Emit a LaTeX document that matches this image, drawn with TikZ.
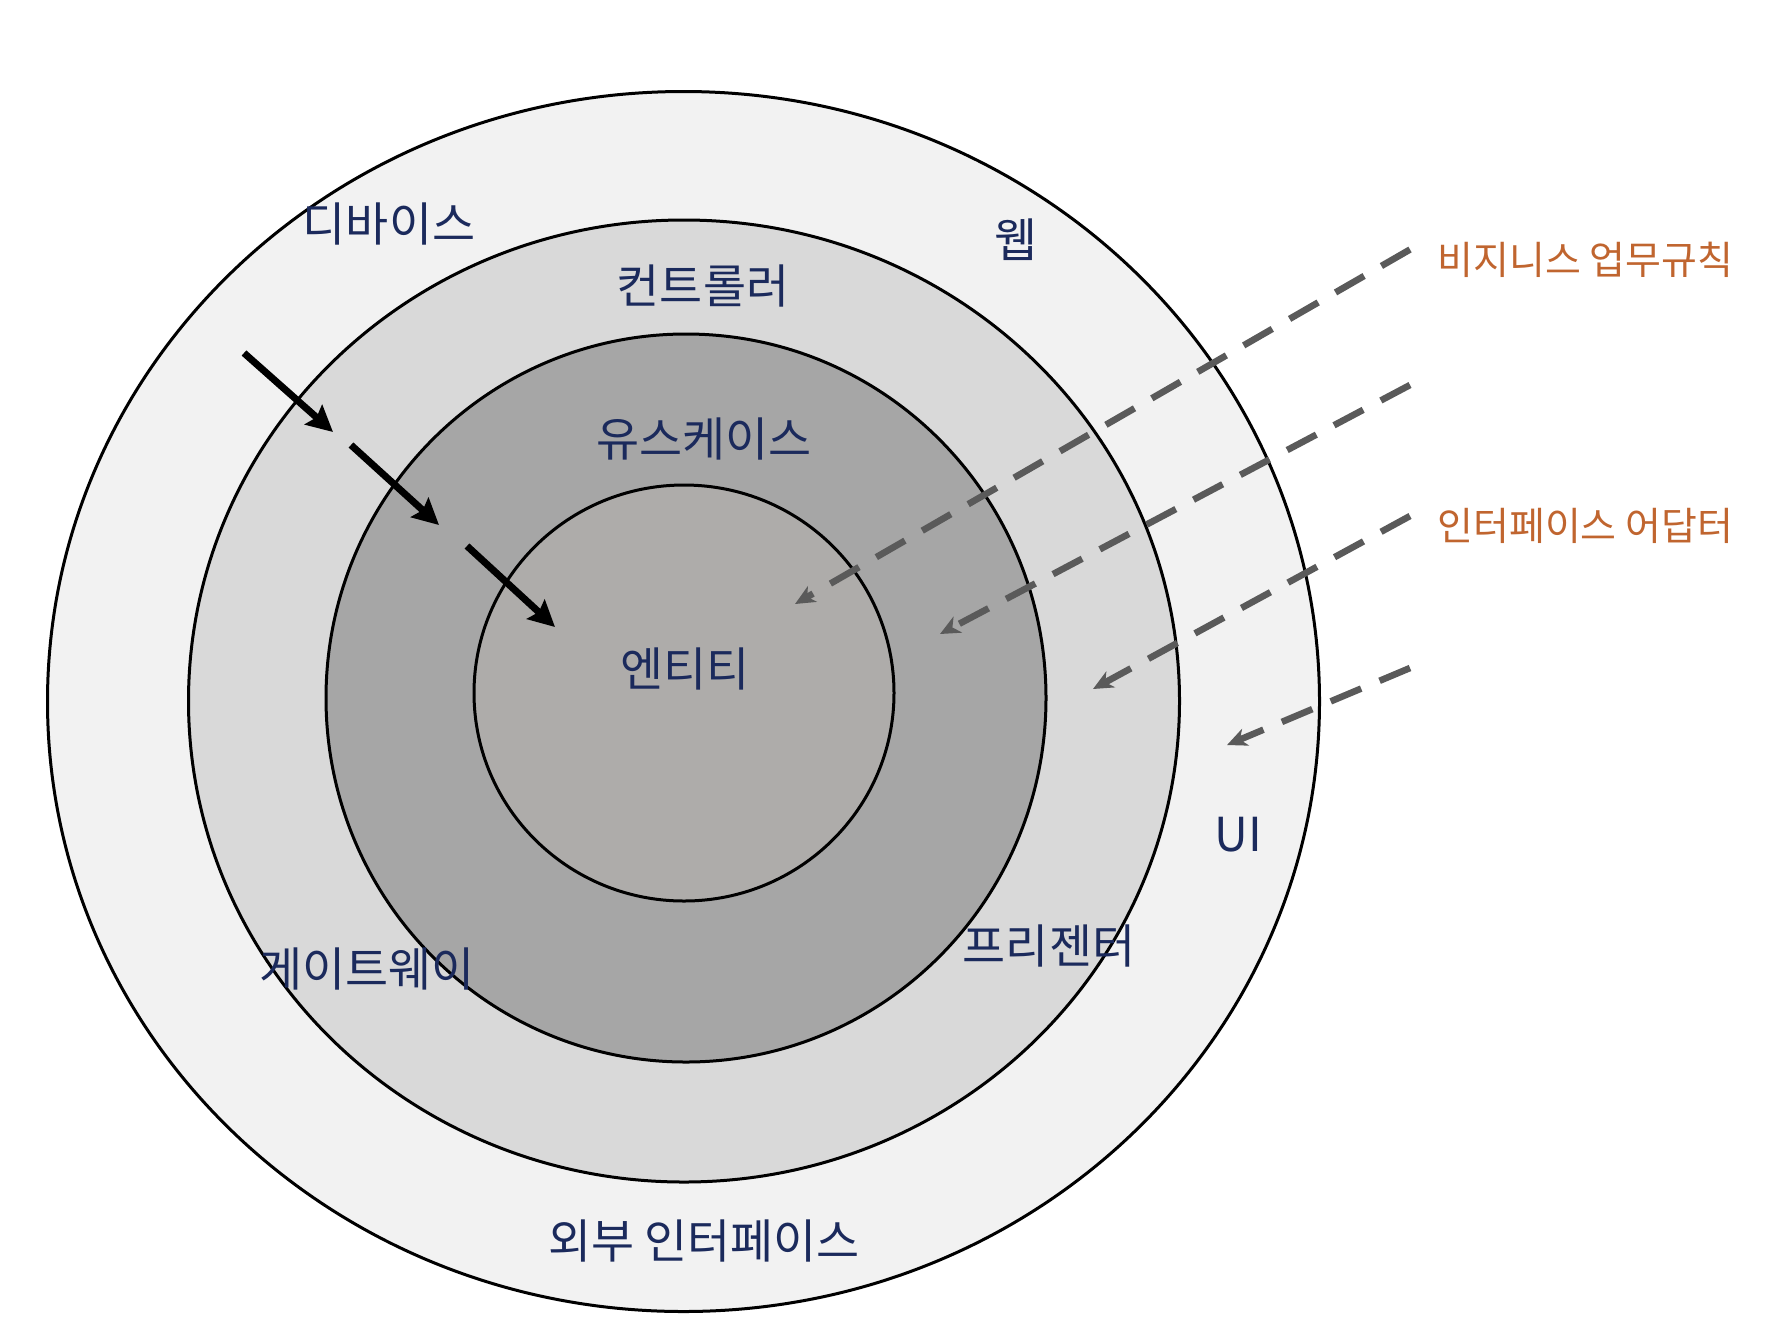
\documentclass[tikz,border=0pt]{standalone}
\usepackage{fontspec}
\setmainfont{Noto Sans CJK KR}
\usetikzlibrary{arrows.meta}
\definecolor{navy}{HTML}{1B2A5C}
\definecolor{rust}{HTML}{C0652F}
\definecolor{dashgray}{HTML}{5A5A5A}
\definecolor{ring1}{HTML}{F2F2F2}
\definecolor{ring2}{HTML}{D9D9D9}
\definecolor{ring3}{HTML}{A6A6A6}
\definecolor{ring4}{HTML}{AEACAA}
\begin{document}
\begin{tikzpicture}[x=0.5pt, y=-0.5pt,
    ring/.style={draw=black, line width=1.5pt},
    flow/.style={-{Stealth[length=13pt, width=13pt, inset=2pt]}, line width=3.5pt},
    dep/.style={-{Stealth[length=10pt, width=9pt, inset=3pt]}, dashgray, line width=3.3pt, dash pattern=on 16.5pt off 10pt},
    layer/.style={navy, font=\fontsize{23.4}{28}\selectfont},
    note/.style={rust, anchor=west, inner sep=0pt, font=\fontsize{19.5}{23}\selectfont}]
    \useasboundingbox (0,0) rectangle (1770,1318);
    % Rings
    \draw[ring, fill=ring1] (683.5,701.5) ellipse [x radius=318pt, y radius=305pt];
    \draw[ring, fill=ring2] (684,701) ellipse [x radius=247.75pt, y radius=240.5pt];
    \draw[ring, fill=ring3] (686,698) ellipse [x radius=180pt, y radius=182pt];
    \draw[ring, fill=ring4] (684,693) ellipse [x radius=105pt, y radius=104pt];
    % Layer names
    \node[layer] (device) at (389,223.5) {디바이스};
    \node[layer] (web) at (1016,240) {웹};
    \node[layer] (ctrl) at (703,286) {컨트롤러};
    \node[layer] (usecase) at (704,439) {유스케이스};
    \node[layer] (entity) at (685,669) {엔티티};
    \node[layer] (ui) at (1238,835) {UI};
    \node[layer] (presenter) at (1049,946) {프리젠터};
    \node[layer] (gateway) at (367,968.5) {게이트웨이};
    \node[layer] (extif) at (704,1240.5) {외부 인터페이스};
    % Notes
    \node[note] (rules) at (1437,259.6) {비지니스 업무규칙};
    \node[note] (adapter) at (1437,526) {인터페이스 어답터};
    % Dependency flow
    \coordinate (f1s) at (244,353);   \coordinate (f1e) at (333,432);
    \coordinate (f2s) at (351,445);   \coordinate (f2e) at (439,525);
    \coordinate (f3s) at (467,546);   \coordinate (f3e) at (555,627);
    \draw[flow] (f1s) -- (f1e);
    \draw[flow] (f2s) -- (f2e);
    \draw[flow] (f3s) -- (f3e);
    % Dashed pointers
    \coordinate (d1s) at (1410,249.5); \coordinate (d1e) at (795,604);
    \coordinate (d2s) at (1410,385);   \coordinate (d2e) at (940,634);
    \coordinate (d3s) at (1410,516);   \coordinate (d3e) at (1093,689);
    \coordinate (d4s) at (1410,668);   \coordinate (d4e) at (1227,745);
    \draw[dep] (d1s) -- (d1e);
    \draw[dep] (d2s) -- (d2e);
    \draw[dep] (d3s) -- (d3e);
    \draw[dep] (d4s) -- (d4e);
\end{tikzpicture}
\end{document}
